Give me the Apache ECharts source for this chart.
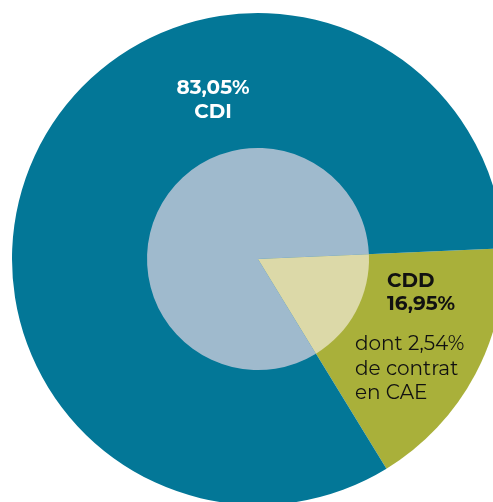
<!DOCTYPE html>
<html>
<head>
<meta charset="utf-8">
<script src="https://cdn.jsdelivr.net/npm/echarts@6/dist/echarts.min.js"></script>
<style>
  html, body { margin: 0; padding: 0; background: #ffffff; }
  #chart { width: 493px; height: 502px; }
</style>
</head>
<body>
<div id="chart"></div>
<script>
// Contract types (shares in %)
const categories = ['CDD', 'CDI'];
const shares = [16.95, 83.05];
const outerColors = ['#a9b03a', '#037797'];
const innerColors = ['#dcd9a8', '#9fbacd'];
const cdiLabel = ['83,05%', 'CDI'];
const cddLabel = ['CDD', '16,95%'];
const cddNote = ['dont 2,54%', 'de contrat', 'en CAE'];

const FONT = 'Montserrat, "Open Sans", "DejaVu Sans", sans-serif';

const chart = echarts.init(document.getElementById('chart'), null, { renderer: 'canvas' });

function pieData(colors) {
  return categories.map((name, i) => ({
    name,
    value: shares[i],
    itemStyle: { color: colors[i] }
  }));
}

function textLines(lines, x, y0, step, opts) {
  return lines.map((t, i) => ({
    type: 'text',
    x: x,
    y: y0 + i * step,
    z: 100,
    silent: true,
    style: {
      text: t,
      font: opts.font,
      fill: opts.fill,
      textAlign: opts.align,
      textVerticalAlign: 'middle'
    }
  }));
}

chart.setOption({
  animation: false,
  series: [
    {
      type: 'pie',
      center: [258, 259],
      radius: [0, 246],
      startAngle: 2.5,
      clockwise: true,
      silent: true,
      label: { show: false },
      labelLine: { show: false },
      data: pieData(outerColors)
    },
    {
      type: 'pie',
      center: [258, 259],
      radius: [0, 111],
      startAngle: 2.5,
      clockwise: true,
      silent: true,
      label: { show: false },
      labelLine: { show: false },
      data: pieData(innerColors)
    }
  ],
  graphic: {
    elements: [].concat(
      textLines(cdiLabel, 213, 88, 24, { font: 'bold 20px ' + FONT, fill: '#ffffff', align: 'center' }),
      textLines(cddLabel, 387, 281, 23, { font: 'bold 20px ' + FONT, fill: '#111111', align: 'left' }),
      textLines(cddNote, 355, 344.5, 24.5, { font: '20px ' + FONT, fill: '#111111', align: 'left' })
    )
  }
});
</script>
</body>
</html>
